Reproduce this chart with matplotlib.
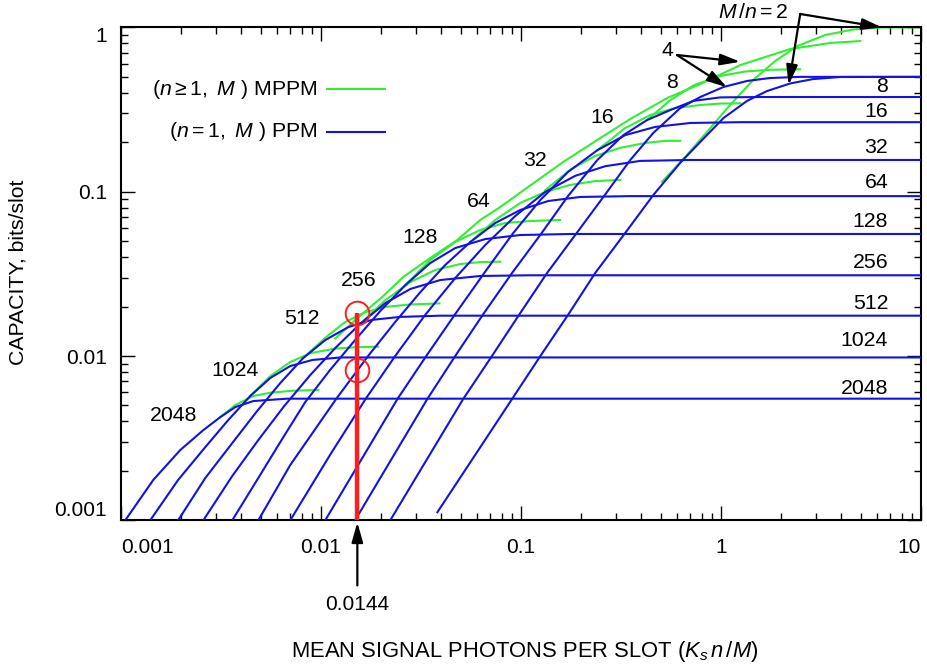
import matplotlib
matplotlib.use('Agg')
import matplotlib.pyplot as plt
import matplotlib.transforms as mtransforms

plt.rcParams['font.family'] = ['Liberation Sans', 'DejaVu Sans']
plt.rcParams['mathtext.fontset'] = 'custom'
plt.rcParams['mathtext.rm'] = 'Liberation Sans'
plt.rcParams['mathtext.it'] = 'Liberation Sans:italic'
plt.rcParams['mathtext.bf'] = 'Liberation Sans:bold'

# PPM capacity curves (n = 1): x = mean signal photons/slot, y = bits/slot
ppm2048_x = [0.00105, 0.00145, 0.00198, 0.00258, 0.00314, 0.00373, 0.00459, 0.00678, 10]
ppm2048_y = [0.001, 0.00176, 0.00268, 0.00354, 0.00425, 0.00489, 0.00532, 0.0055, 0.0055]
ppm1024_x = [0.0014, 0.00193, 0.00264, 0.00344, 0.00443, 0.00558, 0.00702, 0.00905, 0.0125, 10]
ppm1024_y = [0.001, 0.00176, 0.00279, 0.00408, 0.00571, 0.00735, 0.00869, 0.00946, 0.0098, 0.0098]
ppm512_x = [0.00193, 0.00264, 0.0036, 0.00475, 0.00626, 0.00815, 0.0105, 0.0137, 0.018, 0.0249, 0.0395, 10]
ppm512_y = [0.001, 0.00181, 0.00295, 0.00456, 0.00685, 0.00972, 0.0125, 0.015, 0.0166, 0.0173, 0.0176, 0.0176]
ppm256_x = [0.00258, 0.0036, 0.00486, 0.00655, 0.00884, 0.0118, 0.0157, 0.021, 0.028, 0.0395, 0.0626, 0.111, 10]
ppm256_y = [0.001, 0.00186, 0.00308, 0.00496, 0.00766, 0.0112, 0.0157, 0.021, 0.0256, 0.029, 0.0307, 0.031, 0.031]
ppm128_x = [0.0036, 0.00486, 0.00635, 0.00835, 0.0111, 0.0148, 0.0198, 0.0264, 0.0352, 0.0469, 0.0663, 0.0992, 0.176, 10]
ppm128_y = [0.001, 0.00181, 0.00308, 0.00525, 0.00822, 0.0125, 0.0188, 0.027, 0.0368, 0.0454, 0.0515, 0.0545, 0.0553, 0.0553]
ppm64_x = [0.00486, 0.00702, 0.0119, 0.0172, 0.0235, 0.0314, 0.0418, 0.0558, 0.0744, 0.0992, 0.137, 0.198, 0.352, 10]
ppm64_y = [0.001, 0.00217, 0.00547, 0.01, 0.0161, 0.0245, 0.0358, 0.0494, 0.0645, 0.0774, 0.0878, 0.0929, 0.094, 0.094]
ppm32_x = [0.00702, 0.0111, 0.0167, 0.0235, 0.0332, 0.0469, 0.0663, 0.0936, 0.132, 0.187, 0.264, 0.395, 0.702, 10]
ppm32_y = [0.001, 0.0025, 0.00547, 0.01, 0.0178, 0.0298, 0.0474, 0.0711, 0.0996, 0.125, 0.143, 0.154, 0.156, 0.156]
ppm16_x = [0.0105, 0.0241, 0.0336, 0.0469, 0.0655, 0.0915, 0.125, 0.172, 0.241, 0.332, 0.469, 0.702, 1.25, 10]
ppm16_y = [0.001, 0.00547, 0.01, 0.018, 0.032, 0.0561, 0.089, 0.132, 0.179, 0.221, 0.248, 0.262, 0.265, 0.265]
ppm8_x = [0.0148, 0.034, 0.0469, 0.0648, 0.0902, 0.127, 0.172, 0.241, 0.325, 0.427, 0.558, 0.727, 0.992, 1.57, 10]
ppm8_y = [0.001, 0.00547, 0.01, 0.018, 0.032, 0.0561, 0.0942, 0.156, 0.221, 0.273, 0.314, 0.357, 0.375, 0.377, 0.377]
ppm4_x = [0.0222, 0.0514, 0.0716, 0.0984, 0.135, 0.19, 0.267, 0.352, 0.459, 0.626, 0.788, 1.03, 1.35, 1.76, 2.49, 10]
ppm4_y = [0.001, 0.00547, 0.01, 0.018, 0.032, 0.0561, 0.0982, 0.156, 0.228, 0.323, 0.377, 0.434, 0.472, 0.492, 0.5, 0.5]
ppm2_x = [0.0382, 0.0902, 0.125, 0.173, 0.235, 0.332, 0.459, 0.626, 0.788, 1.03, 1.35, 1.7, 2.22, 2.89, 3.95, 10]
ppm2_y = [0.00112, 0.00547, 0.01, 0.018, 0.032, 0.0561, 0.0955, 0.15, 0.201, 0.281, 0.357, 0.41, 0.456, 0.485, 0.499, 0.5]

# MPPM curves (n >= 1), where they leave the PPM curves
mppm2048_x = [0.00314, 0.00373, 0.00459, 0.00558, 0.00727, 0.0097]
mppm2048_y = [0.00425, 0.00503, 0.00571, 0.00598, 0.00615, 0.00621]
mppm1024_x = [0.00443, 0.00558, 0.00702, 0.00884, 0.0118, 0.0148, 0.0193]
mppm1024_y = [0.00571, 0.00755, 0.00919, 0.0104, 0.0111, 0.0113, 0.0114]
mppm512_x = [0.00815, 0.0105, 0.0132, 0.0167, 0.021, 0.028, 0.0391]
mppm512_y = [0.00972, 0.0129, 0.0161, 0.0185, 0.0199, 0.0206, 0.0209]
mppm256_x = [0.0157, 0.021, 0.028, 0.0373, 0.0497, 0.0626, 0.0788]
mppm256_y = [0.0157, 0.0219, 0.0282, 0.0334, 0.0363, 0.0373, 0.0375]
mppm128_x = [0.0264, 0.0352, 0.0469, 0.0626, 0.0834, 0.111, 0.157]
mppm128_y = [0.027, 0.0384, 0.0494, 0.0585, 0.0645, 0.0663, 0.0673]
mppm64_x = [0.0558, 0.0744, 0.0992, 0.132, 0.176, 0.235, 0.314]
mppm64_y = [0.0494, 0.0673, 0.0854, 0.0996, 0.11, 0.116, 0.118]
mppm32_x = [0.132, 0.176, 0.235, 0.314, 0.418, 0.527, 0.626]
mppm32_y = [0.102, 0.136, 0.165, 0.185, 0.198, 0.204, 0.204]
mppm16_x = [0.241, 0.332, 0.443, 0.591, 0.788, 0.992, 1.25]
mppm16_y = [0.179, 0.244, 0.293, 0.323, 0.337, 0.344, 0.345]
mppm8_x = [0.427, 0.558, 0.735, 0.992, 1.32, 1.76, 2.49]
mppm8_y = [0.273, 0.361, 0.446, 0.506, 0.539, 0.552, 0.556]
mppm4_x = [0.0118, 0.0157, 0.0205, 0.0258, 0.0352, 0.048, 0.0626, 0.0788, 0.103, 0.163, 0.249, 0.352,
           0.539, 0.788, 1.25, 2.22, 3.52, 4.97]
mppm4_y = [0.0128, 0.0176, 0.0232, 0.0303, 0.0395, 0.0508, 0.0673, 0.0807, 0.102, 0.152, 0.212, 0.277,
           0.372, 0.452, 0.59, 0.739, 0.804, 0.826]
mppm2_x = [0.507, 0.663, 0.851, 1.11, 1.45, 1.87, 2.41, 3.32, 4.59, 6.4, 10]
mppm2_y = [0.115, 0.163, 0.231, 0.337, 0.479, 0.625, 0.77, 0.899, 0.971, 1.0, 1.0]

# curve labels
left_labels = ['2048', '1024', '512', '256', '128', '64', '32', '16', '8', '4']
left_label_x = [0.00183, 0.00373, 0.00806, 0.0154, 0.0314, 0.0612, 0.118, 0.255, 0.571, 0.539]
left_label_y = [0.00437, 0.00822, 0.0168, 0.029, 0.0523, 0.0866, 0.154, 0.281, 0.465, 0.728]
right_labels = ['8', '16', '32', '64', '128', '256', '512', '1024', '2048']
right_label_y = [0.434, 0.306, 0.187, 0.113, 0.0663, 0.0373, 0.021, 0.0125, 0.0063]

# operating point
x_op = 0.0152
y_op_hi = 0.0183
y_op_lo = 0.00822

BLUE = '#1212e2'
GREEN = '#33ee33'
RED = '#ff1e1e'

fig = plt.figure(figsize=(9.27, 6.70), dpi=100)
ax = fig.add_axes([0.1305, 0.2234, 0.8630, 0.7357])
ax.set_xscale('log')
ax.set_yscale('log')
ax.set_xlim(0.001, 10)
ax.set_ylim(0.001, 1)

greens = [(mppm2048_x, mppm2048_y), (mppm1024_x, mppm1024_y), (mppm512_x, mppm512_y),
          (mppm256_x, mppm256_y), (mppm128_x, mppm128_y), (mppm64_x, mppm64_y),
          (mppm32_x, mppm32_y), (mppm16_x, mppm16_y), (mppm8_x, mppm8_y),
          (mppm4_x, mppm4_y), (mppm2_x, mppm2_y)]
blues = [(ppm2048_x, ppm2048_y), (ppm1024_x, ppm1024_y), (ppm512_x, ppm512_y),
         (ppm256_x, ppm256_y), (ppm128_x, ppm128_y), (ppm64_x, ppm64_y),
         (ppm32_x, ppm32_y), (ppm16_x, ppm16_y), (ppm8_x, ppm8_y),
         (ppm4_x, ppm4_y), (ppm2_x, ppm2_y)]

for gx, gy in greens:
    ax.plot(gx, gy, color=GREEN, lw=1.5, clip_on=False, zorder=2)
for bx, by in blues:
    ax.plot(bx, by, color=BLUE, lw=1.5, zorder=3)

# red marker line and circles
ax.plot([x_op, x_op], [0.001, y_op_hi], color=RED, lw=3.2, solid_capstyle='butt', zorder=4)
ax.plot([x_op, x_op], [y_op_hi, y_op_lo], 'o', ms=17, mfc='none', mec=RED, mew=1.4, zorder=5)

# legend drawn by hand
ax.plot([0.2575, 0.33], [0.875, 0.875], color=GREEN, lw=1.5, transform=ax.transAxes)
ax.plot([0.2575, 0.33], [0.788, 0.788], color=BLUE, lw=1.5, transform=ax.transAxes)
ax.text(0.246, 0.875, r'($n \geq 1,\ M$ ) MPPM', transform=ax.transAxes,
        ha='right', va='center', fontsize=15.3)
ax.text(0.246, 0.788, r'($n = 1,\ M$ ) PPM', transform=ax.transAxes,
        ha='right', va='center', fontsize=15.3)

for lab, lx, ly in zip(left_labels, left_label_x, left_label_y):
    ax.text(lx, ly, lab, ha='center', va='center', fontsize=15.3)
for lab, ly in zip(right_labels, right_label_y):
    ax.text(6.86, ly, lab, ha='right', va='center', fontsize=15.3)

ax.text(1.45, 1.24, r'$M\,/n = 2$', ha='center', va='center', fontsize=15.3)

arrow = dict(arrowstyle='-|>,head_length=0.6,head_width=0.17', color='black',
             lw=1.6, shrinkA=0, shrinkB=0, mutation_scale=20)
ax.annotate('', xy=(6.38, 1.0), xytext=(2.49, 1.207), arrowprops=arrow, annotation_clip=False)
ax.annotate('', xy=(2.18, 0.446), xytext=(2.49, 1.207), arrowprops=arrow, annotation_clip=False)
ax.annotate('', xy=(1.249, 0.618), xytext=(0.603, 0.679), arrowprops=arrow)
ax.annotate('', xy=(1.072, 0.432), xytext=(0.603, 0.679), arrowprops=arrow)

trans = mtransforms.blended_transform_factory(ax.transData, ax.transAxes)
ax.annotate('', xy=(x_op, -0.004), xycoords=trans, xytext=(x_op, -0.132), textcoords=trans,
            arrowprops=arrow, annotation_clip=False)
ax.text(x_op, -0.17, '0.0144', transform=trans, ha='center', va='center', fontsize=15)

# axes styling
xt = [0.001, 0.01, 0.1, 1, 10]
yt = [0.001, 0.01, 0.1, 1]
ax.set_xticks(xt)
ax.set_xticklabels(['0.001', '0.01', '0.1', '1', '10'])
ax.set_yticks(yt)
ax.set_yticklabels(['0.001', '0.01', '0.1', '1'])
ax.tick_params(which='both', direction='in', top=True, right=True, labelsize=15, width=1.0)
ax.tick_params(which='major', length=10)
ax.tick_params(which='minor', length=5)
ax.tick_params(axis='x', pad=13)
ax.tick_params(axis='y', pad=10)
xl = ax.get_xticklabels()
xl[0].set_horizontalalignment('left')
xl[-1].set_horizontalalignment('right')
yl = ax.get_yticklabels()
yl[0].set_verticalalignment('bottom')
yl[-1].set_verticalalignment('top')
for s in ax.spines.values():
    s.set_linewidth(1.5)

fig.text(0.5663, 0.028, r'MEAN SIGNAL PHOTONS PER SLOT ($K_s\, n\,/M$)', ha='center', va='center', fontsize=15.8)
fig.text(0.0194, 0.594, 'CAPACITY, bits/slot', rotation=90, ha='center', va='center', fontsize=15.3)

fig.savefig('out.png', dpi=100)
